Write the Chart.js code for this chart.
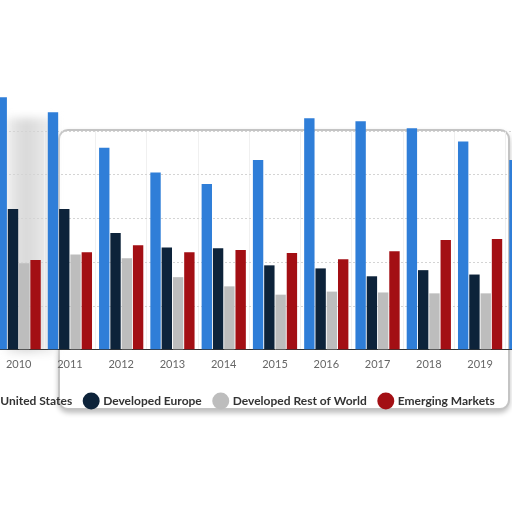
<!DOCTYPE html>
<html lang="en">
<head>
    <meta charset="UTF-8">
    <title>Chart</title>
    <script src="https://cdn.jsdelivr.net/npm/chart.js"></script>
    <style>
        html, body {
            margin: 0;
            width: 512px;
            height: 512px;
            overflow: hidden;
            background: #fff;
        }
        #card {
            position: absolute;
            left: 58px;
            top: 129px;
            width: 448px;
            height: 277px;
            border: 2px solid #c4c4c4;
            border-radius: 10px;
            box-shadow: 0 3px 5px rgba(0,0,0,0.25);
            background: #fff;
        }
        #blur {
            position: absolute;
            left: 6px;
            top: 118px;
            width: 50px;
            height: 235px;
            background: linear-gradient(to right, #eee, #d8d8d8 40%, #f2f2f2);
            filter: blur(4px);
        }
        #wrap {
            position: absolute;
            left: -80px;
            top: 0;
            width: 637px;
            height: 512px;
        }
    </style>
</head>
<body>
    <div id="card"></div>
    <div id="blur"></div>
    <div id="wrap">
        <canvas id="chart"></canvas>
    </div>
    <script>
        // values, one unit = one grid line
        var years = ['2010', '2011', '2012', '2013', '2014', '2015', '2016', '2017', '2018', '2019', '2020'];
        var unitedStates = [5.77, 5.43, 4.62, 4.05, 3.79, 4.34, 5.29, 5.22, 5.06, 4.76, 4.34];
        var developedEurope = [3.22, 3.22, 2.67, 2.34, 2.32, 1.93, 1.86, 1.68, 1.82, 1.72, 1.7];
        var developedRest = [1.98, 2.18, 2.09, 1.66, 1.45, 1.26, 1.33, 1.31, 1.29, 1.29, 1.3];
        var emergingMarkets = [2.05, 2.23, 2.39, 2.23, 2.28, 2.21, 2.07, 2.25, 2.51, 2.53, 2.5];

        var ctx = document.getElementById('chart').getContext('2d');
        var chart = new Chart(ctx, {
            type: 'bar',
            data: {
                labels: years,
                datasets: [
                    { label: 'United States', data: unitedStates, backgroundColor: '#2f7ed8' },
                    { label: 'Developed Europe', data: developedEurope, backgroundColor: '#0d233a' },
                    { label: 'Developed Rest of World', data: developedRest, backgroundColor: '#bdbdbd' },
                    { label: 'Emerging Markets', data: emergingMarkets, backgroundColor: '#a30f14' }
                ]
            },
            options: {
                responsive: true,
                maintainAspectRatio: false,
                animation: false,
                categoryPercentage: 0.88,
                barPercentage: 0.92,
                datasets: { bar: { clip: false } },
                layout: {
                    padding: { left: 0, right: 0, top: 131, bottom: 95 }
                },
                plugins: {
                    tooltip: { enabled: false },
                    legend: {
                        position: 'bottom',
                        labels: {
                            usePointStyle: true,
                            pointStyle: 'circle',
                            boxWidth: 12,
                            boxHeight: 12,
                            padding: 13,
                            color: '#333',
                            font: { family: 'Lato', size: 12, weight: 'bold' }
                        }
                    }
                },
                scales: {
                    x: {
                        grid: { color: '#f0f0f0', drawTicks: false },
                        border: { color: '#333', width: 1 },
                        ticks: {
                            padding: 8,
                            color: '#666',
                            font: { family: 'Lato', size: 11 }
                        },
                        afterFit: function(scale) {
                            scale.height += 3;
                        }
                    },
                    y: {
                        min: 0,
                        max: 5,
                        ticks: { display: false, stepSize: 1 },
                        border: { display: false, dash: [2, 2] },
                        grid: { color: '#d4d4d4', drawTicks: false, lineWidth: 1 },
                        afterFit: function(scale) {
                            // plot starts just off the left edge of the page
                            scale.width = 73;
                        }
                    }
                }
            }
        });
    </script>
</body>
</html>
